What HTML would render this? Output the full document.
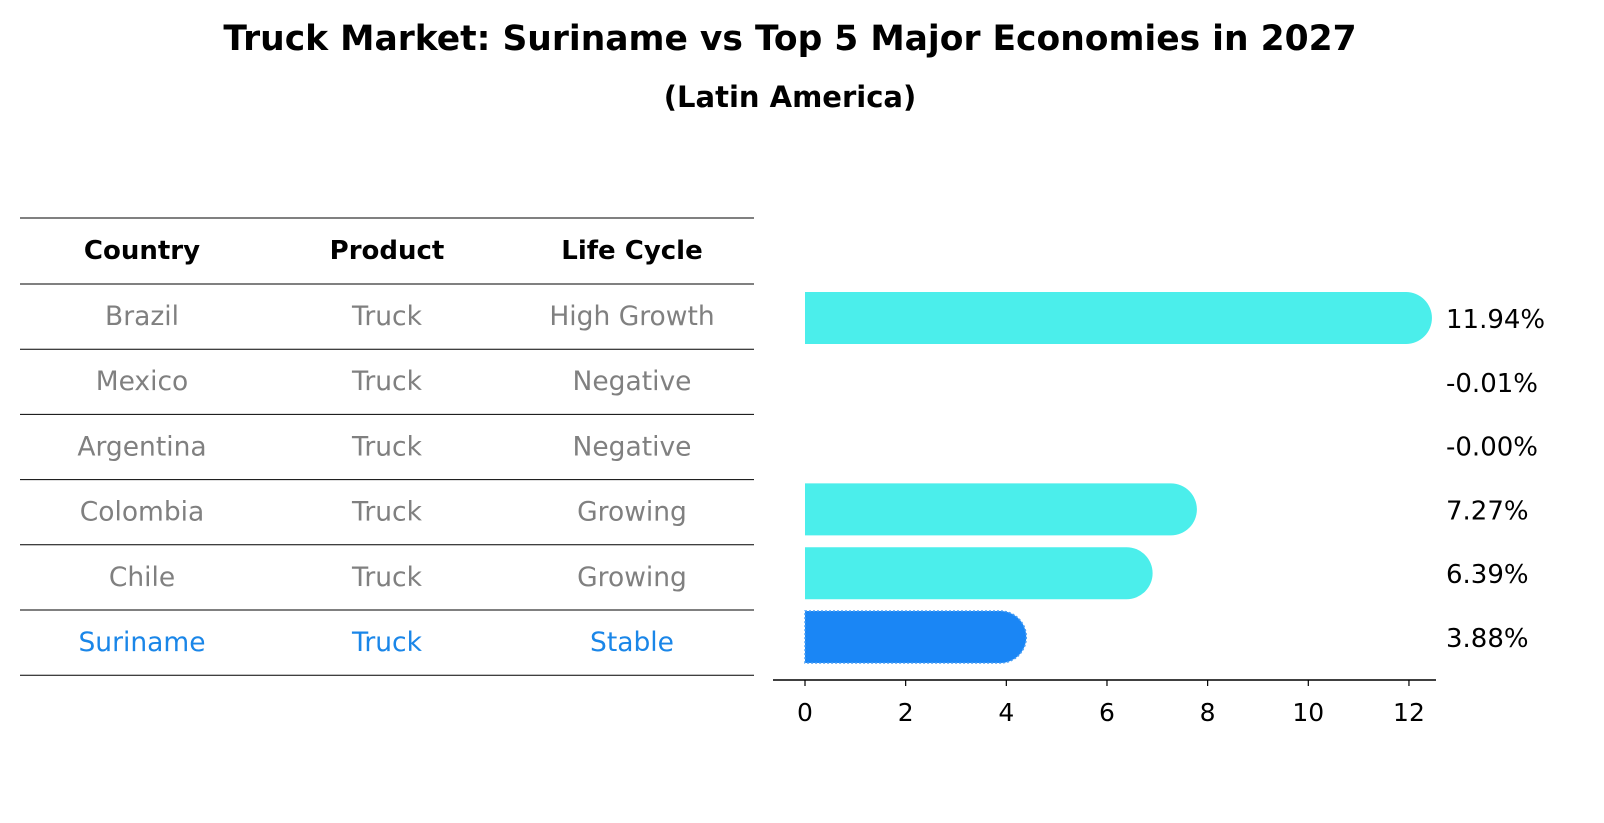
<!DOCTYPE html>
<html><head><meta charset="utf-8"><style>
body{margin:0;background:#fff;font-family:"Liberation Sans","DejaVu Sans",sans-serif;overflow:hidden;}
svg text{font-family:"DejaVu Sans","Liberation Sans",sans-serif;}
</style></head><body>
<svg width="1604" height="823" viewBox="0 0 1604 823" style="display:block">
<text x="790" y="50" text-anchor="middle" font-size="34.5" font-weight="bold">Truck Market: Suriname vs Top 5 Major Economies in 2027</text>
<text x="790" y="107" text-anchor="middle" font-size="29" font-weight="bold">(Latin America)</text>
<g id="table"></g>
<g id="bars"></g>
</svg>
<script>
const countries=["Brazil","Mexico","Argentina","Colombia","Chile","Suriname"];
const products=["Truck","Truck","Truck","Truck","Truck","Truck"];
const lifeCycles=["High Growth","Negative","Negative","Growing","Growing","Stable"];
const values=[11.94,-0.01,-0.00,7.27,6.39,3.88];
const labels=["11.94%","-0.01%","-0.00%","7.27%","6.39%","3.88%"];
const ticks=[0,2,4,6,8,10,12];
const NS="http://www.w3.org/2000/svg";
function mk(tag,attrs,parent){const e=document.createElementNS(NS,tag);for(const k in attrs)e.setAttribute(k,attrs[k]);parent.appendChild(e);return e;}
const tbl=document.getElementById('table');
const rowY=i=>284+i*65.2;
const colX=[142,387,632];
for(let i=0;i<=7;i++){const y=i===0?218:rowY(i-1);
 const l=mk('line',{x1:20,x2:754,y1:y,y2:y,stroke:'#000','stroke-width':1},tbl);
 
 }
["Country","Product","Life Cycle"].forEach((h,j)=>{const t=mk('text',{x:colX[j],y:259,'text-anchor':'middle','font-size':26,'font-weight':'bold'},tbl);t.textContent=h;
 
 });
countries.forEach((c,i)=>{const col=c==="Suriname"?"#1a86e8":"#808080";
 [c,products[i],lifeCycles[i]].forEach((v,j)=>{const t=mk('text',{x:colX[j],y:rowY(i)+41,'text-anchor':'middle','font-size':26.5,fill:col},tbl);t.textContent=v;
 
 });});
const g=document.getElementById('bars');
const x=v=>805+v*50.33;
const yc=i=>318+i*63.8;
const bh=52,r=26;
values.forEach((v,i)=>{
 const sur=countries[i]==="Suriname";
 const col=sur?"#1a86f5":"#4beeeb";
 if(v>0.05){const x0=x(0),x1=x(v);
  const p=mk('path',{d:`M${x0},${yc(i)-bh/2}H${x1}A${r},${r} 0 0 1 ${x1},${yc(i)+bh/2}H${x0}Z`,fill:col},g);
  if(sur){p.setAttribute('stroke','#4a9ff5');p.setAttribute('stroke-width','1.5');p.setAttribute('stroke-dasharray','2 2');}
  
  }
 const t=mk('text',{x:1446,y:yc(i)+10,'font-size':26},g);t.textContent=labels[i];
 
 
});
const ax=mk('line',{x1:773,x2:1436,y1:680,y2:680,stroke:'#000','stroke-width':1.5},g);


ticks.forEach(tv=>{const tk=mk('line',{x1:x(tv),x2:x(tv),y1:680,y2:686,stroke:'#000','stroke-width':1.2},g);
 
 
 const t=mk('text',{x:x(tv),y:721,'text-anchor':'middle','font-size':25},g);t.textContent=tv;
 
 });
</script>
</body></html>
